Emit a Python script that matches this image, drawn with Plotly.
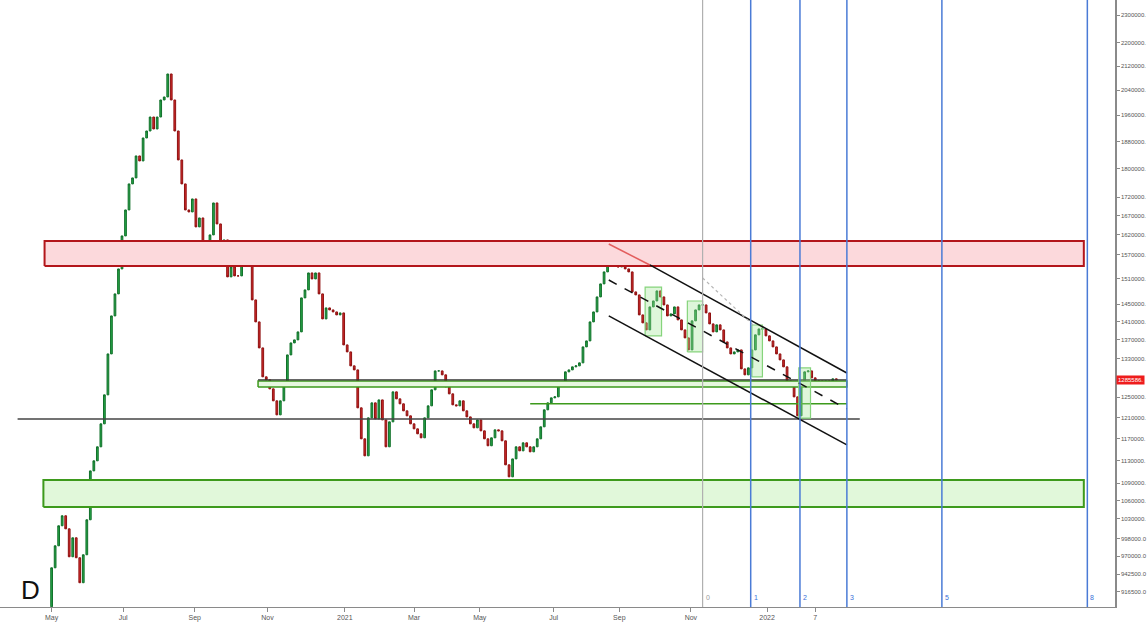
import math
import pandas as pd
import plotly.graph_objects as go

# ---------------- data ----------------
START_DATE = "2020-05-01"
BAR_STEP = "3D"

OPEN = [
    895000, 952400, 986400, 1018400, 1034800, 1013500, 969300, 999100, 967800, 930000,
    972400, 1028200, 1111600, 1129600, 1155100, 1198200, 1254900, 1339600, 1423300, 1474200,
    1534100, 1617000, 1685400, 1756800, 1773700, 1837000, 1822400, 1890400, 1911600, 1954700,
    1917700, 1954700, 2008500, 2018100, 2093500, 2008500, 1911600, 1825300, 1756800, 1685400,
    1680000, 1715200, 1640400, 1664000, 1568700, 1581300, 1619600, 1704300, 1648200, 1581300,
    1606700, 1514700, 1539000, 1517100, 1517100, 1561200, 1581300, 1546400, 1460100, 1409800,
    1352500, 1291500, 1285300, 1267000, 1243000, 1215500, 1243000, 1279200, 1337500, 1363300,
    1369900, 1387500, 1464800, 1483600, 1524300, 1509800, 1524300, 1474200, 1416500, 1441600,
    1437000, 1432400, 1425600, 1430100, 1359000, 1343900, 1314300, 1305900, 1229200, 1169900,
    1138600, 1209700, 1239000, 1207700, 1244900, 1205800, 1155100, 1202000, 1260900, 1246900,
    1237100, 1223300, 1213600, 1198200, 1188700, 1179300, 1171800, 1209700, 1233100, 1265000,
    1303800, 1303800, 1295600, 1271000, 1256900, 1235100, 1233100, 1243000, 1223300, 1211600,
    1198200, 1190600, 1205800, 1184900, 1169900, 1157000, 1171800, 1186800, 1184900, 1166200,
    1122400, 1101100, 1133100, 1155100, 1147700, 1162500, 1155100, 1145900, 1155100, 1169900,
    1192500, 1225300, 1239000, 1248900, 1250900, 1275100, 1277100, 1301800, 1305900, 1312200,
    1314300, 1320600, 1354700, 1367700, 1409800, 1432400, 1467100, 1497900, 1526800, 1558700,
    1583800, 1541400, 1539000, 1541400, 1534100, 1526800, 1478900, 1471800, 1425600, 1407600,
    1391900, 1443900, 1457700, 1481200, 1467100, 1448500, 1423300, 1427900, 1443900, 1414300,
    1391900, 1374300, 1348200, 1412100, 1437000, 1448500, 1448500, 1430100, 1405300, 1387500,
    1403100, 1391900, 1365500, 1352500, 1339600, 1343900, 1348200, 1308000, 1295600, 1310100,
    1348200, 1380900, 1394100, 1394100, 1378700, 1367700, 1354700, 1339600, 1326900, 1312200,
    1283200, 1281200, 1250900, 1213600, 1283200, 1301800, 1303800, 1289400, 1283200, 1283200,
    1279200, 1283200, 1279200, 1287400,
]

CLOSE = [
    952400, 986400, 1018400, 1034800, 1013500, 969300, 999100, 967800, 930000, 972400,
    1028200, 1111600, 1129600, 1155100, 1198200, 1254900, 1339600, 1423300, 1474200, 1534100,
    1617000, 1685400, 1756800, 1773700, 1837000, 1822400, 1890400, 1911600, 1954700, 1917700,
    1954700, 2008500, 2018100, 2093500, 2008500, 1911600, 1825300, 1756800, 1685400, 1680000,
    1715200, 1640400, 1664000, 1568700, 1581300, 1619600, 1704300, 1648200, 1581300, 1606700,
    1514700, 1539000, 1517100, 1517100, 1561200, 1581300, 1546400, 1460100, 1409800, 1352500,
    1291500, 1285300, 1267000, 1243000, 1215500, 1243000, 1279200, 1337500, 1363300, 1369900,
    1387500, 1464800, 1483600, 1524300, 1509800, 1524300, 1474200, 1416500, 1441600, 1437000,
    1432400, 1425600, 1430100, 1359000, 1343900, 1314300, 1305900, 1229200, 1169900, 1138600,
    1209700, 1239000, 1207700, 1244900, 1205800, 1155100, 1202000, 1260900, 1246900, 1237100,
    1223300, 1213600, 1198200, 1188700, 1179300, 1171800, 1209700, 1233100, 1265000, 1303800,
    1303800, 1295600, 1271000, 1256900, 1235100, 1233100, 1243000, 1223300, 1211600, 1198200,
    1190600, 1205800, 1184900, 1169900, 1157000, 1171800, 1186800, 1184900, 1166200, 1122400,
    1101100, 1133100, 1155100, 1147700, 1162500, 1155100, 1145900, 1155100, 1169900, 1192500,
    1225300, 1239000, 1248900, 1250900, 1275100, 1277100, 1301800, 1305900, 1312200, 1314300,
    1320600, 1354700, 1367700, 1409800, 1432400, 1467100, 1497900, 1526800, 1558700, 1583800,
    1541400, 1539000, 1541400, 1534100, 1526800, 1478900, 1471800, 1425600, 1407600, 1391900,
    1443900, 1457700, 1481200, 1467100, 1448500, 1423300, 1427900, 1443900, 1414300, 1391900,
    1374300, 1348200, 1412100, 1437000, 1448500, 1448500, 1430100, 1405300, 1387500, 1403100,
    1391900, 1365500, 1352500, 1339600, 1343900, 1348200, 1308000, 1295600, 1310100, 1348200,
    1380900, 1394100, 1394100, 1378700, 1367700, 1354700, 1339600, 1326900, 1312200, 1283200,
    1281200, 1250900, 1213600, 1283200, 1301800, 1303800, 1289400, 1283200, 1283200, 1279200,
    1283200, 1279200, 1287400, 1285586,
]

CURRENT_PRICE = 1285586
CURRENT_PRICE_TEXT = "1285586."

# Drawn objects (zones, lines, channel)
RED_ZONE_X = ["2020-04-25", "2022-09-28"]
RED_ZONE_Y = [1541300, 1603800]
GREEN_ZONE_X = ["2020-04-24", "2022-09-28"]
GREEN_ZONE_Y = [1049500, 1095500]
SUPPORT_X = ["2020-04-02", "2022-03-21"]
SUPPORT_Y = 1207600
BAND_X = ["2020-10-24", "2022-03-10"]
BAND_Y = [1270800, 1283200]
BAND_TOP_Y = 1285300
GREEN_LINE_X = ["2021-06-13", "2022-03-10"]
GREEN_LINE_Y = 1237100

CH_RED_X = ["2021-08-19", "2021-09-23"]
CH_RED_Y = [1596200, 1543800]
CH_UP_X = ["2021-09-23", "2022-03-10"]
CH_UP_Y = [1543800, 1299500]
CH_LOW_X = ["2021-08-19", "2022-03-10"]
CH_LOW_Y = [1423200, 1158600]
CH_MID_X = ["2021-08-19", "2022-03-10"]
CH_MID_Y = [1507200, 1227000]
GRAY_DOT_X = ["2021-11-07", "2021-12-21"]
GRAY_DOT_Y = [1512100, 1400600]

BOX_X0 = ["2021-09-19", "2021-10-25", "2021-12-19", "2022-01-28"]
BOX_X1 = ["2021-10-03", "2021-11-07", "2021-12-28", "2022-02-07"]
BOX_Y0 = [1378500, 1343900, 1291300, 1209300]
BOX_Y1 = [1490400, 1457600, 1402800, 1309900]

FIB_DATES = ["2021-11-07", "2021-12-18", "2022-01-29", "2022-03-10", "2022-05-30", "2022-10-01"]
FIB_LABELS = ["0", "1", "2", "3", "5", "8"]

X_TICK_VALS = ["2020-05-01", "2020-07-01", "2020-08-31", "2020-11-01", "2021-01-06", "2021-03-06",
               "2021-05-01", "2021-07-03", "2021-08-28", "2021-10-28", "2022-01-01", "2022-02-11"]
X_TICK_TEXT = ["May", "Jul", "Sep", "Nov", "2021", "Mar", "May", "Jul", "Sep", "Nov", "2022", "7"]

Y_TICK_VALS = [2300000, 2200000, 2120000, 2040000, 1960000, 1880000, 1800000, 1720000, 1670000,
               1620000, 1570000, 1510000, 1450000, 1410000, 1370000, 1330000, 1250000, 1210000,
               1170000, 1130000, 1090000, 1060000, 1030000, 998000, 970000, 942500, 916500]
Y_TICK_TEXT = ["2300000.", "2200000.", "2120000.", "2040000.", "1960000.", "1880000.", "1800000.",
               "1720000.", "1670000.", "1620000.", "1570000.", "1510000.", "1450000.", "1410000.",
               "1370000.", "1330000.", "1250000.", "1210000.", "1170000.", "1130000.", "1090000.",
               "1060000.", "1030000.", "998000.0", "970000.0", "942500.0", "916500.0"]

X_RANGE = ["2020-03-18", "2022-10-24 14:00"]
Y_RANGE = [894680, 2355700]

# ---------------- figure ----------------
dates = pd.date_range(START_DATE, periods=len(OPEN), freq=BAR_STEP)
highs = [max(o, c) for o, c in zip(OPEN, CLOSE)]
lows = [min(o, c) for o, c in zip(OPEN, CLOSE)]

fig = go.Figure()


def rect(x, y, line_color, fill_color, width):
    fig.add_trace(go.Scatter(
        x=[x[0], x[1], x[1], x[0], x[0]],
        y=[y[0], y[0], y[1], y[1], y[0]],
        mode="lines", fill="toself", fillcolor=fill_color,
        line=dict(color=line_color, width=width),
        hoverinfo="skip", showlegend=False))


def seg(x, y, color, width, dash="solid"):
    fig.add_trace(go.Scatter(x=x, y=y, mode="lines",
                             line=dict(color=color, width=width, dash=dash),
                             hoverinfo="skip", showlegend=False))


rect(RED_ZONE_X, RED_ZONE_Y, "#b3161b", "#fcd9dc", 2)
rect(GREEN_ZONE_X, GREEN_ZONE_Y, "#3d9a1c", "#e1f8da", 2)
rect(BAND_X, BAND_Y, "#3d9a1c", "#e6f7de", 1.5)
seg(BAND_X, [BAND_TOP_Y, BAND_TOP_Y], "#333333", 1.2)
seg(SUPPORT_X, [SUPPORT_Y, SUPPORT_Y], "#444444", 1.5)
seg(GREEN_LINE_X, [GREEN_LINE_Y, GREEN_LINE_Y], "#3d9a1c", 1.5)

for x0, x1, y0, y1 in zip(BOX_X0, BOX_X1, BOX_Y0, BOX_Y1):
    rect([x0, x1], [y0, y1], "#86d47c", "rgba(160,230,150,0.35)", 1.2)

fig.add_trace(go.Candlestick(
    x=dates, open=OPEN, high=highs, low=lows, close=CLOSE,
    increasing=dict(line=dict(color="#11702a", width=1), fillcolor="#27a849"),
    decreasing=dict(line=dict(color="#8e1010", width=1), fillcolor="#d22b2b"),
    whiskerwidth=0, showlegend=False, hoverinfo="skip"))

seg(CH_RED_X, CH_RED_Y, "#e35d5d", 1.5)
seg(CH_UP_X, CH_UP_Y, "#111111", 1.5)
seg(CH_LOW_X, CH_LOW_Y, "#111111", 1.5)
seg(CH_MID_X, CH_MID_Y, "#111111", 1.5, "dash")
seg(GRAY_DOT_X, GRAY_DOT_Y, "#b5b5b5", 1.2, "dot")

shapes = []
for i, d in enumerate(FIB_DATES):
    col = "#b0b0b0" if i == 0 else "#4a7bd6"
    shapes.append(dict(type="line", xref="x", yref="paper", x0=d, x1=d, y0=0, y1=1,
                       line=dict(color=col, width=1.5 if i else 1.2), layer="above"))

annotations = []
for i, (d, lab) in enumerate(zip(FIB_DATES, FIB_LABELS)):
    annotations.append(dict(x=d, y=0.006, xref="x", yref="paper", text=lab, showarrow=False,
                            xanchor="left", yanchor="bottom", xshift=1,
                            font=dict(size=7, color="#999999" if i == 0 else "#3a6fd8",
                                      family="Liberation Sans")))
annotations.append(dict(x=0.027, y=0.028, xref="paper", yref="paper", text="D",
                        showarrow=False, xanchor="center", yanchor="middle",
                        font=dict(size=26, color="#111111", family="Liberation Sans")))
annotations.append(dict(x=1.0, y=math.log10(CURRENT_PRICE), xref="paper", yref="y",
                        text=CURRENT_PRICE_TEXT, showarrow=False, xanchor="left",
                        yanchor="middle", xshift=1, bgcolor="#ee1c1c", borderpad=1,
                        font=dict(size=6, color="#ffffff", family="Liberation Sans")))

fig.update_layout(
    template="none",
    width=1147, height=623,
    margin=dict(l=0, r=32, t=0, b=16, autoexpand=False),
    paper_bgcolor="white", plot_bgcolor="white",
    showlegend=False,
    shapes=shapes, annotations=annotations,
    xaxis=dict(type="date", range=X_RANGE, rangeslider=dict(visible=False), automargin=False,
               tickvals=X_TICK_VALS, ticktext=X_TICK_TEXT,
               showgrid=False, zeroline=False, showline=True, linecolor="#8a8a8a", linewidth=1,
               ticks="outside", ticklen=4, tickcolor="#8a8a8a",
               tickfont=dict(size=7, color="#555555", family="Liberation Sans")),
    yaxis=dict(type="log", side="right", automargin=False,
               range=[math.log10(Y_RANGE[0]), math.log10(Y_RANGE[1])],
               tickvals=Y_TICK_VALS, ticktext=Y_TICK_TEXT,
               showgrid=False, zeroline=False, showline=True, linecolor="#8a8a8a", linewidth=1.5,
               ticks="outside", ticklen=3, tickcolor="#8a8a8a",
               tickfont=dict(size=6, color="#555555", family="Liberation Sans")),
)

fig.write_html("out.html")
